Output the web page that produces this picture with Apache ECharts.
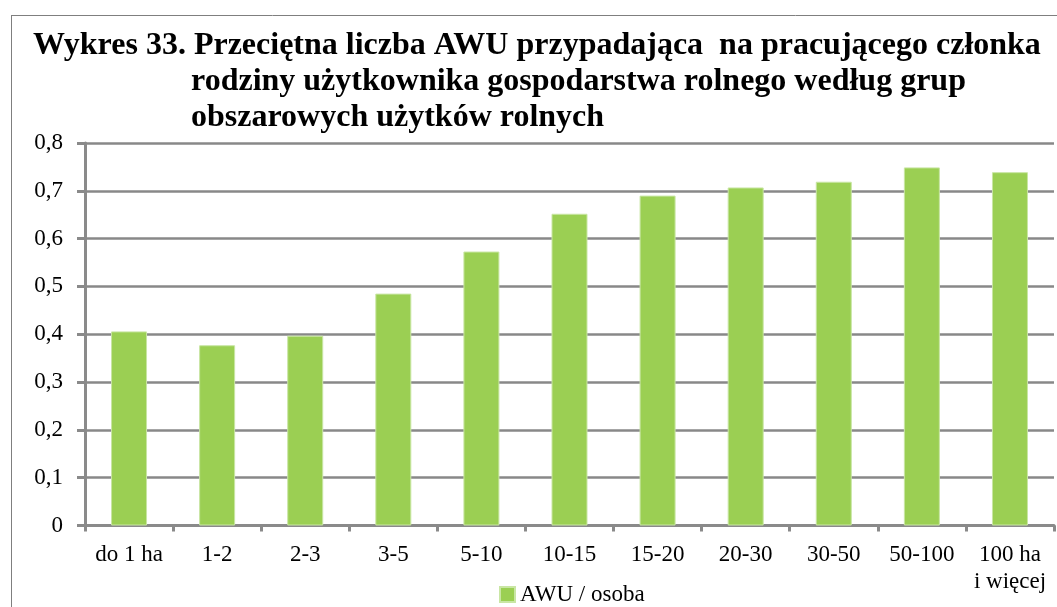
<!DOCTYPE html>
<html>
<head>
<meta charset="utf-8">
<script src="https://cdn.jsdelivr.net/npm/echarts@6/dist/echarts.min.js"></script>
<style>
  html, body { margin: 0; padding: 0; background: #fff; }
  #chart { width: 1057px; height: 607px; }
</style>
</head>
<body>
<div id="chart"></div>
<script>
// Farm area groups (UR) and average AWU per working family member
const categories = ['do 1 ha', '1-2', '2-3', '3-5', '5-10', '10-15', '15-20', '20-30', '30-50', '50-100', '100 ha\ni więcej'];
const awuPerPerson = [0.406, 0.377, 0.397, 0.485, 0.573, 0.652, 0.690, 0.707, 0.719, 0.749, 0.739];
const seriesName = 'AWU / osoba';
const titleLines = [
  'Wykres 33. Przeciętna liczba AWU przypadająca  na pracującego członka',
  'rodziny użytkownika gospodarstwa rolnego według grup',
  'obszarowych użytków rolnych'
];

const serif = '"Liberation Serif", "Times New Roman", serif';
const axisGray = '#8a8a8a';

const chart = echarts.init(document.getElementById('chart'), null, { renderer: 'canvas' });

chart.setOption({
  animation: false,
  textStyle: { fontFamily: serif, color: '#000' },
  title: [
    { text: titleLines[0], left: 33, top: 28 },
    { text: titleLines[1], left: 191, top: 64 },
    { text: titleLines[2], left: 191, top: 100 }
  ].map(t => Object.assign(t, {
    padding: 0,
    textStyle: { fontFamily: serif, fontSize: 32, fontWeight: 'bold', color: '#000', lineHeight: 36 }
  })),
  graphic: [
    // outer frame (left and top edges)
    { type: 'line', shape: { x1: 11.5, y1: 15, x2: 11.5, y2: 607 }, style: { stroke: '#7f7f7f', lineWidth: 1 } },
    { type: 'line', shape: { x1: 11, y1: 15.5, x2: 1057, y2: 15.5 }, style: { stroke: '#7f7f7f', lineWidth: 1 } }
  ],
  legend: {
    data: [seriesName],
    left: 494,
    top: 578,
    itemWidth: 15,
    itemHeight: 15,
    itemGap: 9,
    icon: 'rect',
    textStyle: { fontFamily: serif, fontSize: 23, color: '#000' }
  },
  grid: { left: 85, right: 3, top: 143, bottom: 81.5, containLabel: false },
  xAxis: {
    type: 'category',
    data: categories,
    axisLine: { show: true, lineStyle: { color: axisGray, width: 3 } },
    axisTick: { show: true, alignWithLabel: false, length: 6, lineStyle: { color: axisGray, width: 3 } },
    axisLabel: {
      interval: 0,
      margin: 16,
      fontFamily: serif,
      fontSize: 23,
      color: '#000',
      lineHeight: 27
    }
  },
  yAxis: {
    type: 'value',
    min: 0,
    max: 0.8,
    interval: 0.1,
    axisLine: { show: true, lineStyle: { color: axisGray, width: 3 } },
    axisTick: { show: true, length: 8, lineStyle: { color: axisGray, width: 3 } },
    splitLine: { show: true, lineStyle: { color: '#888', width: 2.5 } },
    axisLabel: {
      margin: 22,
      fontFamily: serif,
      fontSize: 23,
      color: '#000',
      formatter: v => (v === 0 ? '0' : v.toFixed(1).replace('.', ','))
    }
  },
  series: [{
    name: seriesName,
    type: 'bar',
    data: awuPerPerson,
    barWidth: 36,
    itemStyle: { color: '#9bcf53', borderColor: '#c9e6a4', borderWidth: 1 }
  }]
});
</script>
</body>
</html>
